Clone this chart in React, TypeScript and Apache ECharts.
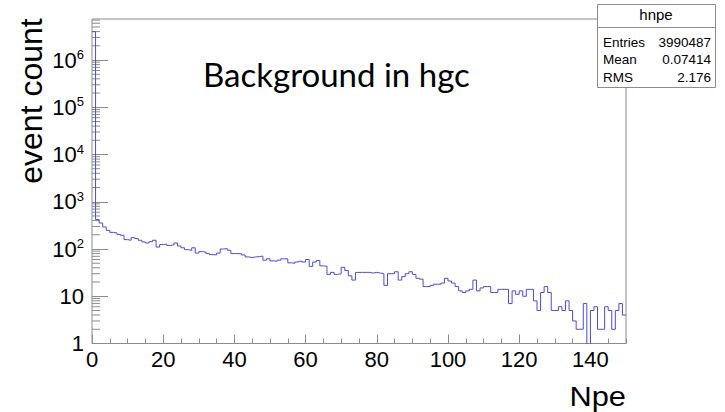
import React, { useEffect, useRef } from "react";
import * as echarts from "echarts";

// ---- data ----
const counts: number[] = [
  3982000, 420, 355, 293, 248, 225, 219, 204, 195, 158,
  153, 174, 166, 153, 141, 134, 143, 153, 110, 124,
  127, 119, 122, 134, 116, 106, 97, 94, 106, 82,
  88, 86, 80, 76, 75, 82, 100, 102, 94, 80,
  80, 79, 75, 68, 66, 68, 69, 71, 58, 62,
  56, 55, 58, 62, 62, 51, 50, 53, 55, 53,
  60, 43, 53, 57, 44, 43, 29, 32, 29, 30,
  41, 35, 27, 22, 32, 32, 32, 32, 31, 32,
  31, 30, 17, 30, 30, 33, 22, 26, 30, 33,
  29, 24, 23, 16, 16, 17, 18, 18, 19, 24,
  21, 19, 16, 13, 12, 13, 14, 22, 13, 15,
  16, 16, 12, 12, 14, 14, 14, 7, 13, 11,
  13, 10, 14, 14, 8, 5, 12, 16, 12, 5,
  5, 6, 5, 8, 5, 3, 2, 2, 7, 0,
  5, 6, 2, 2, 6, 5, 2, 5, 7, 4,
];
const xMin = 0;
const xMax = 150;
const yMin = 1;
const yMax = 7.38e6;
const xTickLabels = [0, 20, 40, 60, 80, 100, 120, 140];
const yDecadeExponents = [0, 1, 2, 3, 4, 5, 6];
const titleText = "Background in hgc";
const xTitle = "Npe";
const yTitle = "event count";
const statsName = "hnpe";
const statsRows: [string, string][] = [
  ["Entries", "3990487"],
  ["Mean", "0.07414"],
  ["RMS", "2.176"],
];

const FONT = "'Liberation Sans', Arial, Helvetica, sans-serif";
const GRAY = "#8c8c8c";

export default function App() {
  const ref = useRef<HTMLDivElement>(null);
  useEffect(() => {
    const chart = echarts.init(ref.current!, null, { renderer: "svg" });

    const lineData: number[][] = counts.map((c, i) => [xMin + i, c > 0 ? c : 0.1]);
    lineData.push([xMax, counts[counts.length - 1] > 0 ? counts[counts.length - 1] : 0.1]);

    const minorTicks: number[][] = [];
    for (let k = 0; k <= 6; k++) {
      for (let m = 2; m <= 9; m++) {
        const v = m * Math.pow(10, k);
        if (v < yMax) minorTicks.push([0, v]);
      }
    }

    const option: any = {
      animation: false,
      backgroundColor: "#fff",
      grid: {
        left: 92,
        top: 19,
        right: 99,
        bottom: 68.5,
        show: true,
        borderColor: GRAY,
        borderWidth: 1,
        backgroundColor: "#fff",
      },
      xAxis: [
        {
          type: "value",
          min: xMin,
          max: xMax,
          interval: 20,
          position: "bottom",
          axisLine: { show: false, onZero: false },
          splitLine: { show: false },
          axisTick: { show: true, inside: true, length: 9, lineStyle: { color: GRAY } },
          axisLabel: {
            show: true,
            margin: 5,
            fontSize: 22,
            color: "#000",
            fontFamily: FONT,
            showMaxLabel: false,
            formatter: (v: number) => (xTickLabels.indexOf(Math.round(v)) >= 0 ? String(Math.round(v)) : ""),
          },
        },
        {
          type: "value",
          min: xMin,
          max: xMax,
          interval: 5,
          position: "bottom",
          axisLine: { show: false, onZero: false },
          splitLine: { show: false },
          axisTick: { show: true, inside: true, length: 5, lineStyle: { color: GRAY } },
          axisLabel: { show: false },
        },
      ],
      yAxis: {
        type: "log",
        logBase: 10,
        min: yMin,
        max: yMax,
        axisLine: { show: false },
        splitLine: { show: false },
        axisTick: { show: true, inside: true, length: 16, lineStyle: { color: GRAY } },
        axisLabel: {
          show: true,
          margin: 8,
          color: "#000",
          fontFamily: FONT,
          fontSize: 22,
          showMaxLabel: false,
          formatter: (v: number) => {
            const e = Math.log10(v);
            const r = Math.round(e);
            if (Math.abs(e - r) > 1e-6 || yDecadeExponents.indexOf(r) < 0) return "";
            if (r === 0) return "{b|1}";
            if (r === 1) return "{b|10}";
            return "{b|10}{e|" + r + "}";
          },
          rich: {
            b: { fontSize: 22, fontFamily: FONT, color: "#000", lineHeight: 24 },
            e: { fontSize: 13, fontFamily: FONT, color: "#000", verticalAlign: "top", lineHeight: 14 },
          },
        },
      },
      series: [
        {
          type: "line",
          step: "end",
          data: lineData,
          symbol: "none",
          xAxisIndex: 0,
          yAxisIndex: 0,
          clip: true,
          lineStyle: { color: "#4b4bdc", width: 1 },
          z: 3,
          silent: true,
        },
        {
          type: "custom",
          xAxisIndex: 0,
          yAxisIndex: 0,
          data: minorTicks,
          silent: true,
          renderItem: (params: any, api: any) => {
            const p = api.coord([api.value(0), api.value(1)]);
            return {
              type: "line",
              shape: { x1: p[0], y1: p[1], x2: p[0] + 8, y2: p[1] },
              style: { stroke: GRAY, lineWidth: 1 },
            };
          },
          z: 2,
        },
      ],
      graphic: [
        {
          type: "text",
          x: 203,
          y: 74,
          z: 50,
          style: {
            text: titleText,
            fontFamily: "Lato, 'Open Sans', sans-serif",
            fontSize: 33,
            fill: "#000",
            textAlign: "left",
            textVerticalAlign: "middle",
          },
        },
        {
          type: "text",
          x: 31,
          y: 101,
          rotation: Math.PI / 2,
          z: 50,
          style: {
            text: yTitle,
            fontFamily: FONT,
            fontSize: 32,
            fill: "#000",
            textAlign: "center",
            textVerticalAlign: "middle",
          },
        },
        {
          type: "text",
          x: 626,
          y: 396,
          scaleX: 1.1,
          z: 50,
          style: {
            text: xTitle,
            fontFamily: FONT,
            fontSize: 28,
            fill: "#000",
            textAlign: "right",
            textVerticalAlign: "middle",
          },
        },
        {
          type: "group",
          z: 100,
          children: [
            {
              type: "rect",
              shape: { x: 597.5, y: 4.5, width: 118, height: 83 },
              style: { fill: "#fff", stroke: GRAY, lineWidth: 1 },
              z: 100,
            },
            {
              type: "line",
              shape: { x1: 597.5, y1: 27.5, x2: 715.5, y2: 27.5 },
              style: { stroke: GRAY, lineWidth: 1 },
              z: 101,
            },
            {
              type: "text",
              x: 656,
              y: 14,
              z: 101,
              style: {
                text: statsName,
                fontFamily: FONT,
                fontSize: 15,
                fill: "#000",
                textAlign: "center",
                textVerticalAlign: "middle",
              },
            },
            ...statsRows.flatMap((row, i) => [
              {
                type: "text",
                x: 603,
                y: 42 + i * 17.5,
                z: 101,
                style: {
                  text: row[0],
                  fontFamily: FONT,
                  fontSize: 13.5,
                  fill: "#000",
                  textAlign: "left",
                  textVerticalAlign: "middle",
                },
              },
              {
                type: "text",
                x: 711,
                y: 42 + i * 17.5,
                z: 101,
                style: {
                  text: row[1],
                  fontFamily: FONT,
                  fontSize: 13.5,
                  fill: "#000",
                  textAlign: "right",
                  textVerticalAlign: "middle",
                },
              },
            ]),
          ],
        },
      ],
    };

    chart.setOption(option);
    return () => chart.dispose();
  }, []);

  return (
    <div
      ref={ref}
      style={{ position: "absolute", left: 0, top: 0, width: 725, height: 412 }}
    />
  );
}
